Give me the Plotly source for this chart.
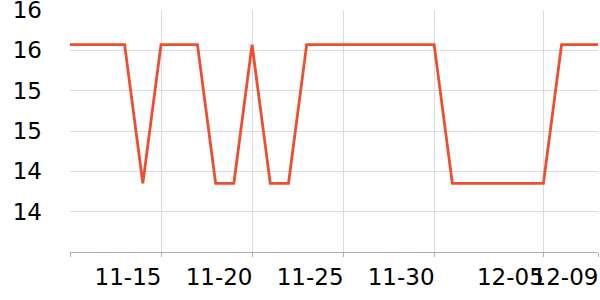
import plotly.graph_objects as go

dates = ["11-10", "11-11", "11-12", "11-13", "11-14", "11-15", "11-16", "11-17",
         "11-18", "11-19", "11-20", "11-21", "11-22", "11-23", "11-24", "11-25",
         "11-26", "11-27", "11-28", "11-29", "11-30", "12-01", "12-02", "12-03",
         "12-04", "12-05", "12-06", "12-07", "12-08", "12-09"]
values = [15.57, 15.57, 15.57, 15.57, 13.85, 15.57, 15.57, 15.57,
          13.85, 13.85, 15.57, 13.85, 13.85, 15.57, 15.57, 15.57,
          15.57, 15.57, 15.57, 15.57, 15.57, 13.85, 13.85, 13.85,
          13.85, 13.85, 13.85, 15.57, 15.57, 15.57]

x_tick_vals = ["11-10", "11-15", "11-20", "11-25", "11-30", "12-06", "12-09"]
x_tick_text = ["", "11-15", "11-20", "11-25", "11-30", "12-05", "12-09"]
y_tick_vals = [13.5, 14, 14.5, 15, 15.5, 16]
y_tick_text = ["14", "14", "15", "15", "16", "16"]

fig = go.Figure()
fig.add_trace(go.Scatter(
    x=dates, y=values, mode="lines",
    line=dict(color="#ef4d2f", width=2.8),
    hoverinfo="skip",
    cliponaxis=False,
))

font = dict(family="DejaVu Sans", size=23, color="#000000")

fig.update_layout(
    width=600, height=300,
    margin=dict(l=70, r=2, t=10, b=48),
    paper_bgcolor="white", plot_bgcolor="white",
    showlegend=False,
    xaxis=dict(
        type="category",
        range=[0, 29],
        automargin=False,
        tickangle=0,
        tickmode="array", tickvals=x_tick_vals, ticktext=x_tick_text,
        showgrid=True, gridcolor="#dcdcdc", gridwidth=1,
        showline=True, linecolor="#b0b0b0", linewidth=1,
        ticks="outside", ticklen=4, tickcolor="#b0b0b0",
        tickfont=font,
        ticklabelshift=-33,
        ticklabelstandoff=0,
        ticklabeloverflow="allow",
        zeroline=False,
    ),
    yaxis=dict(
        range=[13, 16],
        automargin=False,
        tickmode="array", tickvals=y_tick_vals, ticktext=y_tick_text,
        showgrid=True, gridcolor="#dcdcdc", gridwidth=1,
        showline=False, ticks="",
        tickfont=font,
        ticklabelstandoff=27,
        ticklabeloverflow="allow",
        zeroline=False,
    ),
)

fig.write_html("out.html")
